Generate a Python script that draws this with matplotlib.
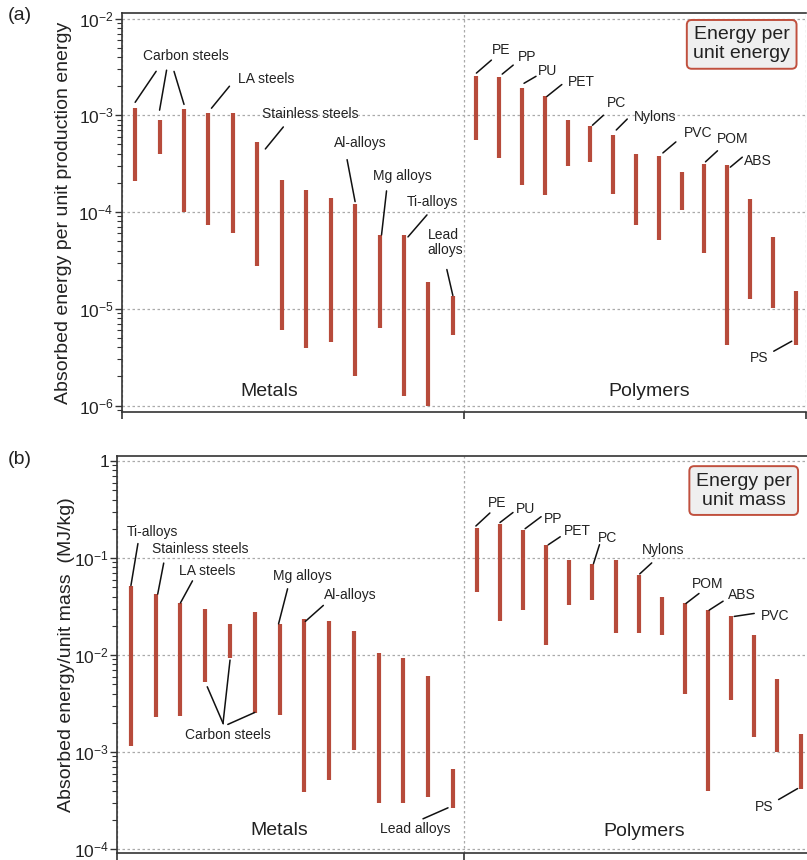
#!/usr/bin/env python3

import numpy as np
import matplotlib
matplotlib.use('Agg')
import matplotlib.pyplot as plt
from matplotlib.ticker import FuncFormatter, LogLocator
from matplotlib.transforms import offset_copy

plt.rcParams['font.family'] = ['Liberation Sans', 'DejaVu Sans']
plt.rcParams['mathtext.default'] = 'regular'

# (a) energy absorbed per unit production energy
metals_en_hi = [1.18e-3, 8.9e-4, 1.15e-3, 1.05e-3, 1.05e-3, 5.3e-4, 2.15e-4,
                1.7e-4, 1.4e-4, 1.22e-4, 5.8e-5, 5.8e-5, 1.9e-5, 1.37e-5]
metals_en_lo = [2.1e-4, 4.0e-4, 1.0e-4, 7.3e-5, 6.1e-5, 2.8e-5, 6.1e-6,
                3.9e-6, 4.5e-6, 2.0e-6, 6.3e-6, 1.25e-6, 1.0e-6, 5.4e-6]
polys_en_hi = [2.54e-3, 2.48e-3, 1.9e-3, 1.6e-3, 8.9e-4, 7.7e-4, 6.25e-4, 4.0e-4,
               3.8e-4, 2.6e-4, 3.15e-4, 3.05e-4, 1.36e-4, 5.5e-5, 1.54e-5]
polys_en_lo = [5.6e-4, 3.65e-4, 1.9e-4, 1.5e-4, 3.0e-4, 3.25e-4, 1.54e-4, 7.3e-5,
               5.1e-5, 1.04e-4, 3.8e-5, 4.2e-6, 1.26e-5, 1.02e-5, 4.2e-6]

# (b) energy absorbed per unit mass, MJ/kg
metals_ms_hi = [5.2e-2, 4.25e-2, 3.45e-2, 2.95e-2, 2.08e-2, 2.8e-2, 2.1e-2,
                2.33e-2, 2.27e-2, 1.79e-2, 1.05e-2, 9.3e-3, 6.1e-3, 6.7e-4]
metals_ms_lo = [1.15e-3, 2.3e-3, 2.37e-3, 5.3e-3, 9.3e-3, 2.5e-3, 2.4e-3,
                3.9e-4, 5.1e-4, 1.05e-3, 3.0e-4, 3.0e-4, 3.4e-4, 2.66e-4]
polys_ms_hi = [0.204, 0.227, 0.196, 0.137, 9.6e-2, 8.75e-2, 9.6e-2, 6.7e-2,
               4.0e-2, 3.4e-2, 2.9e-2, 2.5e-2, 1.6e-2, 5.6e-3, 1.55e-3]
polys_ms_lo = [4.5e-2, 2.27e-2, 2.9e-2, 1.26e-2, 3.25e-2, 3.66e-2, 1.69e-2, 1.69e-2,
               1.6e-2, 4.0e-3, 4.0e-4, 3.4e-3, 1.43e-3, 1.0e-3, 4.2e-4]

bar_color = '#b74b3b'
x_met = (np.arange(len(metals_en_hi)) + 0.55) / 14
x_pol = 1 + (np.arange(len(polys_en_hi)) + 0.55) / 15

W, H = 807, 860
fig = plt.figure(figsize=(W / 100, H / 100), dpi=100)
ax1 = fig.add_axes([121.7 / W, 1 - 411.7 / H, (806 - 121.7) / W, (411.7 - 13.3) / H])
ax2 = fig.add_axes([117.3 / W, 1 - 853 / H, (811 - 117.3) / W, (853 - 456) / H])


def tick_fmt(v, pos):
    e = int(round(np.log10(v)))
    if e == 0:
        return '1'
    return r'$\mathregular{10^{%d}}$' % e


def style_axes(ax, ylim, ylabel, lab_x):
    ax.set_yscale('log')
    ax.set_ylim(*ylim)
    ax.set_xlim(0, 2)
    ax.set_xticks([0, 1, 2])
    ax.set_xticklabels([])
    ax.yaxis.set_major_locator(LogLocator(base=10, numticks=10))
    ax.yaxis.set_minor_locator(LogLocator(base=10, subs=np.arange(2, 10), numticks=20))
    ax.yaxis.set_major_formatter(FuncFormatter(tick_fmt))
    ax.tick_params(axis='y', which='major', direction='out', length=5, width=1,
                   labelsize=12.5, pad=1, colors='#333333', labelcolor='#222222')
    ax.tick_params(axis='y', which='minor', direction='out', length=3.5, width=0.8,
                   colors='#333333')
    ax.tick_params(axis='x', direction='out', length=5, width=1.2, colors='#333333')
    ax.spines['right'].set_visible(False)
    for s in ('left', 'top', 'bottom'):
        ax.spines[s].set_linewidth(1.2)
        ax.spines[s].set_color('#333333')
    ax.grid(True, which='major', color='#aaaaaa', linestyle=(0, (2, 2)), lw=0.9)
    ax.set_axisbelow(True)
    ax.set_ylabel(ylabel, fontsize=14, color='#222222')
    ax.yaxis.set_label_coords(lab_x, 0.5)


def bars(ax, x, lo, hi):
    ax.vlines(x, lo, hi, color=bar_color, lw=3.0, zorder=3)


def label(ax, xs, lo, hi, text, ref, off, leaders, ha='center', ma='center'):
    i, end = ref
    y = hi[i] if end == 'hi' else lo[i]
    ax.annotate(text, xy=(xs[i], y), xytext=off, textcoords='offset pixels',
                ha=ha, va='center', multialignment=ma, fontsize=10, color='#222222',
                linespacing=1.1)
    for j, e, near, far in leaders:
        yy = hi[j] if e == 'hi' else lo[j]
        ax.annotate('', xy=(xs[j], yy),
                    xycoords=offset_copy(ax.transData, fig=fig, x=near[0], y=near[1], units='dots'),
                    xytext=(xs[j], yy),
                    textcoords=offset_copy(ax.transData, fig=fig, x=far[0], y=far[1], units='dots'),
                    arrowprops=dict(arrowstyle='-', shrinkA=0, shrinkB=0, lw=1.1, color='#111111'))


box = dict(boxstyle='round,pad=0.33,rounding_size=0.25', fc='#efefef', ec='#c0503e', lw=1.4)

# ---------------- (a) ----------------
style_axes(ax1, (10 ** -6.064, 10 ** -1.946),
           'Absorbed energy per unit production energy', -0.073)
bars(ax1, x_met, metals_en_lo, metals_en_hi)
bars(ax1, x_pol, polys_en_lo, polys_en_hi)

m = (ax1, x_met, metals_en_lo, metals_en_hi)
label(*m, 'Carbon steels', (0, 'hi'), (51, 52),
      [(0, 'hi', (0, 6), (21, 37)), (1, 'hi', (0, 10), (7, 50)), (2, 'hi', (0, 5), (-10, 38))])
label(*m, 'LA steels', (3, 'hi'), (58, 34), [(3, 'hi', (3, 5), (21, 27))])
label(*m, 'Stainless steels', (5, 'hi'), (53, 28), [(5, 'hi', (8, -7), (26, 15))])
label(*m, 'Al-alloys', (9, 'hi'), (5, 61), [(9, 'hi', (0, 2), (-8, 44))])
label(*m, 'Mg alloys', (10, 'hi'), (23, 59), [(10, 'hi', (2, 0), (7, 44))])
label(*m, 'Ti-alloys', (11, 'hi'), (28, 33), [(11, 'hi', (4, -2), (23, 20))])
label(*m, 'Lead\nalloys', (13, 'hi'), (-25, 53), [(13, 'hi', (0, 0), (-6, 26))],
      ha='left', ma='left')

p = (ax1, x_pol, polys_en_lo, polys_en_hi)
label(*p, 'PE', (0, 'hi'), (25, 26), [(0, 'hi', (0, 3), (15, 16))])
label(*p, 'PP', (1, 'hi'), (28, 20), [(1, 'hi', (3, 3), (14, 12))])
label(*p, 'PU', (2, 'hi'), (26, 17), [(2, 'hi', (2, 5), (14, 12))])
label(*p, 'PET', (3, 'hi'), (37, 14), [(3, 'hi', (2, -1), (17, 11))])
label(*p, 'PC', (5, 'hi'), (26, 23), [(5, 'hi', (2, 1), (13, 11))])
label(*p, 'Nylons', (6, 'hi'), (42, 18), [(6, 'hi', (3, 5), (14, 16))])
label(*p, 'PVC', (8, 'hi'), (39, 23), [(8, 'hi', (4, 3), (17, 14))])
label(*p, 'POM', (10, 'hi'), (28, 25), [(10, 'hi', (1, 2), (13, 13))])
label(*p, 'ABS', (11, 'hi'), (31, 4), [(11, 'hi', (3, -2), (15, 8))])
label(*p, 'PS', (14, 'lo'), (-37, -13), [(14, 'lo', (-4, 4), (-22, -6))])

ax1.text(0.215, 0.05, 'Metals', transform=ax1.transAxes, fontsize=14,
         ha='center', va='center', color='#222222')
ax1.text(0.771, 0.05, 'Polymers', transform=ax1.transAxes, fontsize=14,
         ha='center', va='center', color='#222222')
ax1.text(0.906, 0.922, 'Energy per\nunit energy', transform=ax1.transAxes, fontsize=14,
         ha='center', va='center', color='#222222', bbox=box, linespacing=1.15)

# ---------------- (b) ----------------
style_axes(ax2, (10 ** -4.041, 10 ** 0.052),
           'Absorbed energy/unit mass  (MJ/kg)', -0.061)
bars(ax2, x_met, metals_ms_lo, metals_ms_hi)
bars(ax2, x_pol, polys_ms_lo, polys_ms_hi)

m = (ax2, x_met, metals_ms_lo, metals_ms_hi)
label(*m, 'Ti-alloys', (0, 'hi'), (22, 54), [(0, 'hi', (0, 0), (7, 42))])
label(*m, 'Stainless steels', (1, 'hi'), (45, 45), [(1, 'hi', (2, 0), (8, 31))])
label(*m, 'LA steels', (2, 'hi'), (27, 32), [(2, 'hi', (0, 0), (12, 22))])
label(*m, 'Mg alloys', (6, 'hi'), (23, 48), [(6, 'hi', (-1, 0), (8, 35))])
label(*m, 'Al-alloys', (7, 'hi'), (46, 24), [(7, 'hi', (1, -2), (19, 14))])
label(*m, 'Carbon steels', (3, 'lo'), (23, -53),
      [(3, 'lo', (2, -5), (18, -42)), (4, 'lo', (0, -2), (-7, -65)), (5, 'lo', (0, 1), (-27, -11))])
label(*m, 'Lead alloys', (13, 'lo'), (-38, -21), [(13, 'lo', (-5, 0), (-30, -11))])

p = (ax2, x_pol, polys_ms_lo, polys_ms_hi)
label(*p, 'PE', (0, 'hi'), (20, 25), [(0, 'hi', (-1, 2), (13, 15))])
label(*p, 'PU', (1, 'hi'), (26, 15), [(1, 'hi', (0, 1), (13, 11))])
label(*p, 'PP', (2, 'hi'), (30, 11), [(2, 'hi', (2, 1), (18, 13))])
label(*p, 'PET', (3, 'hi'), (31, 14), [(3, 'hi', (2, 0), (14, 8))])
label(*p, 'PC', (5, 'hi'), (15, 26), [(5, 'hi', (1, 0), (7, 19))])
label(*p, 'Nylons', (7, 'hi'), (24, 25), [(7, 'hi', (1, 1), (13, 12))])
label(*p, 'POM', (9, 'hi'), (23, 19), [(9, 'hi', (1, 0), (14, 10))])
label(*p, 'ABS', (10, 'hi'), (34, 15), [(10, 'hi', (1, 0), (15, 9))])
label(*p, 'PVC', (11, 'hi'), (44, 0), [(11, 'hi', (3, 0), (23, 3))])
label(*p, 'PS', (14, 'lo'), (-36, -18), [(14, 'lo', (-3, 0), (-22, -11))])

ax2.text(0.233, 0.056, 'Metals', transform=ax2.transAxes, fontsize=14,
         ha='center', va='center', color='#222222')
ax2.text(0.759, 0.054, 'Polymers', transform=ax2.transAxes, fontsize=14,
         ha='center', va='center', color='#222222')
ax2.text(0.903, 0.913, 'Energy per\nunit mass', transform=ax2.transAxes, fontsize=14,
         ha='center', va='center', color='#222222', bbox=box, linespacing=1.15)

fig.text(20 / W, 1 - 16 / H, '(a)', fontsize=14, ha='center', va='center', color='#222222')
fig.text(20 / W, 1 - 460 / H, '(b)', fontsize=14, ha='center', va='center', color='#222222')

fig.savefig('out.png', dpi=100)
